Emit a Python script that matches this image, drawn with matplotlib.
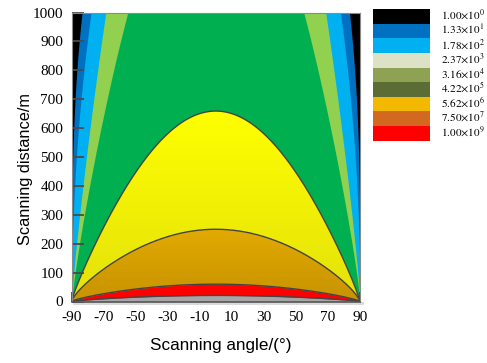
import numpy as np
import matplotlib
matplotlib.use("Agg")
import matplotlib.pyplot as plt
from matplotlib.colors import LinearSegmentedColormap

plt.rcParams['mathtext.fontset'] = 'stix'

# ---------------- data ----------------
# contour band boundaries: d(theta) = peak * cos(theta)**k  (outer -> inner)
band_names   = ["dark blue", "light blue", "light green", "green", "yellow", "gold", "red", "gray"]
band_peaks   = [2042, 2175, 2356, 1600, 659, 250, 60, 21]
band_expos   = [0.33, 0.50, 0.85, 0.85, 0.88, 0.75, 0.75, 0.75]
band_colors  = ["#0070C0", "#00B0F0", "#92D050", "#00B050", "#F4F000", "#D5A200", "#FF0000", "#A6A6A6"]
band_tops    = [None, None, None, None, ("#FFFF00", "#E4E10A"), ("#E2AA00", "#C79300"), None, None]
band_lined   = [False, False, False, False, True, True, True, True]
background_color = "#000000"

x_ticks = [-90, -70, -50, -30, -10, 10, 30, 50, 70, 90]
x_tick_labels = ["-90", "-70", "-50", "-30", "-10", "10", "30", "50", "70", "90"]
y_ticks = [0, 100, 200, 300, 400, 500, 600, 700, 800, 900, 1000]
y_tick_labels = [str(v) for v in y_ticks]

legend_labels = [r"$1.00{\times}10^{0}$", r"$1.33{\times}10^{1}$", r"$1.78{\times}10^{2}$",
                 r"$2.37{\times}10^{3}$", r"$3.16{\times}10^{4}$", r"$4.22{\times}10^{5}$",
                 r"$5.62{\times}10^{6}$", r"$7.50{\times}10^{7}$", r"$1.00{\times}10^{9}$"]
legend_colors = ["#000000", "#0070C0", "#00B0F0", "#DDE2C6", "#8FA253",
                 "#5B6C35", "#F3B800", "#D2691E", "#FF0000"]

# ---------------- figure ----------------
fig = plt.figure(figsize=(4.87, 3.63), dpi=100)
W, H = 487, 363
ax = fig.add_axes([71.5 / W, 1 - 301.5 / H, 288.5 / W, 289 / H])
ax.set_xlim(-90, 90)
ax.set_ylim(0, 1000)
ax.set_facecolor(background_color)

theta = np.linspace(-90, 90, 1441)
c = np.clip(np.cos(np.radians(theta)), 0, 1)

z = 2.0
for peak, k, col, grad, lined in zip(band_peaks, band_expos, band_colors, band_tops, band_lined):
    d = peak * c ** k
    poly = ax.fill_between(theta, 0, np.minimum(d, 1000), color=col, lw=0, zorder=z)
    if grad is not None:
        cmap = LinearSegmentedColormap.from_list("g", [grad[1], grad[0]])
        grd = np.linspace(0, 1, 256).reshape(-1, 1)
        im = ax.imshow(grd, extent=[-90, 90, 0, peak], origin="lower", aspect="auto",
                       cmap=cmap, zorder=z + 0.01)
        im.set_clip_path(poly.get_paths()[0], transform=ax.transData)
    if lined:
        ax.plot(theta, d, color="#444444", lw=1.0, zorder=z + 0.02)
    z += 0.1

ax.set_xticks(x_ticks)
ax.set_xticklabels(x_tick_labels)
ax.set_yticks(y_ticks)
ax.set_yticklabels(y_tick_labels)
ax.tick_params(axis="x", direction="in", length=7.5, width=1.3, color="#4a4a4a", pad=7,
               labelsize=11)
ax.tick_params(axis="y", direction="in", length=8.5, width=1.3, color="#4a4a4a", pad=6,
               labelsize=11)
ax.set_axisbelow(False)
for lab in ax.get_xticklabels() + ax.get_yticklabels():
    lab.set_family("Liberation Serif")
for s in ax.spines.values():
    s.set_color("#8a8a8a")
    s.set_linewidth(0.8)
    s.set_zorder(5)
ax.spines["bottom"].set_color("#555555")
ax.spines["bottom"].set_linewidth(1.2)

# light shadow under the plot
ax.add_patch(plt.Rectangle((0.005, -0.013), 1.01, 0.011, transform=ax.transAxes,
                           color="#DADADA", lw=0, clip_on=False, zorder=1))

fam = ["Liberation Sans", "DejaVu Sans"]
ax.set_xlabel("Scanning angle/(°)", fontsize=12.3, family=fam)
ax.xaxis.set_label_coords(0.518, -0.125)
ax.set_ylabel("Scanning distance/m", fontsize=11.8, family=fam)
ax.yaxis.set_label_coords(-0.135, 0.46)

# ---------------- legend ----------------
lax = fig.add_axes([372.7 / W, 1 - 140.5 / H, (487 - 372.7) / W, 131.2 / H])
lax.set_xlim(0, 1)
lax.set_ylim(len(legend_labels), 0)
lax.axis("off")
ypos = np.arange(len(legend_labels)) + 0.5
lax.barh(ypos, [57.3 / (487 - 372.7)] * len(ypos), height=1.0, color=legend_colors, lw=0)
for y, lab in zip(ypos, legend_labels):
    lax.text(68 / (487 - 372.7), y - 0.1, lab, fontsize=8.1, va="center", ha="left")

fig.savefig("out.png", dpi=100)
